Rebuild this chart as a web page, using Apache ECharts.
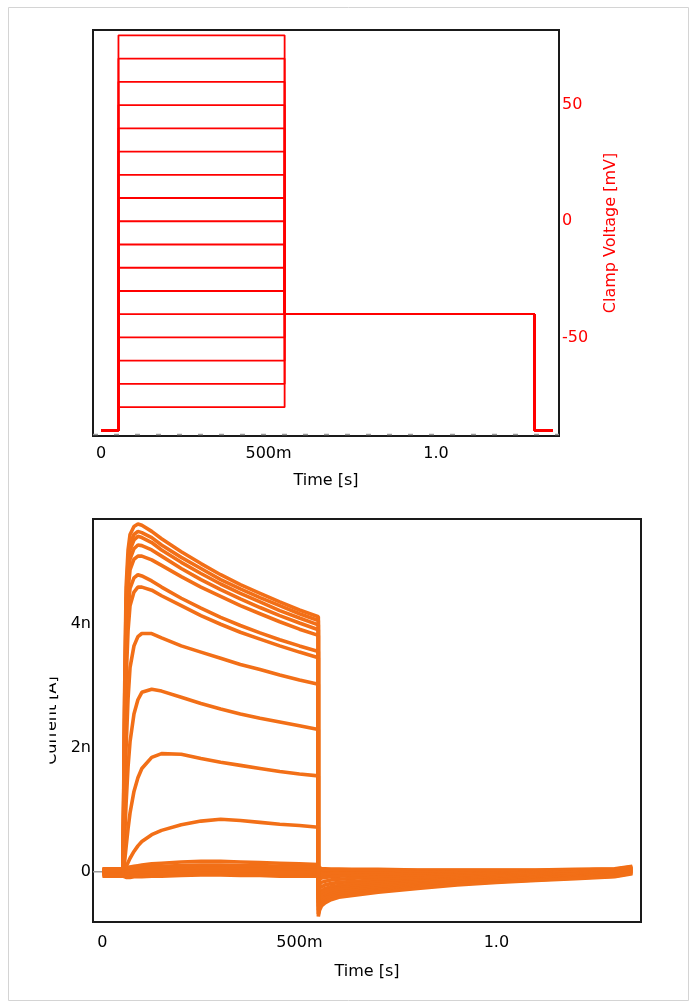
<!DOCTYPE html>
<html><head><meta charset="utf-8">
<script src="https://cdn.jsdelivr.net/npm/echarts@6/dist/echarts.min.js"></script>
<style>html,body{margin:0;padding:0;background:#fff}#c{width:697px;height:1003px}</style>
</head><body><div id="c"></div>
<script>
// ---------- data ----------
const stepVoltages = [-80, -70, -60, -50, -40, -30, -20, -10, 0, 10, 20, 30, 40, 50, 60, 70, 80];
const protocolTimes = [0, 0.052, 0.548, 1.294, 1.348]; // s
const holdingV = -90;
const tailV = -40;
const voltTicks = [-50, 0, 50];
const timeTicks = [0, 0.5, 1.0];
const timeTickLabels = ['0', '500m', '1.0'];
const currentTicks = [0, 2, 4];
const currentTickLabels = ['0', '2n', '4n'];
const zeroMarkerTimes = [-0.024, 0];
const refLineTimes = [-0.024, 1.367];
const refLineV = -91.8;

const pulseTimes = [0, 0.052, 0.056, 0.06, 0.065, 0.07, 0.08, 0.09, 0.1, 0.125, 0.15, 0.2, 0.25, 0.3, 0.35, 0.4, 0.45, 0.5, 0.548];
const tailTimes = [0.548, 0.551, 0.556, 0.565, 0.58, 0.6, 0.65, 0.7, 0.8, 0.9, 1.0, 1.1, 1.2, 1.3, 1.345];

// currents in nA, one list per voltage step
const pulse_m80 = [-0.07,-0.07,-0.09,-0.09,-0.09,-0.09,-0.08,-0.08,-0.08,-0.07,-0.07,-0.06,-0.05,-0.05,-0.06,-0.06,-0.07,-0.07,-0.07];
const pulse_m70 = [-0.04,-0.04,-0.05,-0.05,-0.05,-0.05,-0.04,-0.04,-0.04,-0.03,-0.03,-0.02,-0.01,-0.01,-0.02,-0.02,-0.03,-0.03,-0.03];
const pulse_m60 = [0.0,0.0,-0.02,-0.02,-0.02,-0.01,-0.01,-0.01,0,0,0.01,0.02,0.03,0.03,0.02,0.02,0.01,0.01,0];
const pulse_m50 = [-0.02,-0.02,0.02,0.02,0.02,0.03,0.03,0.03,0.04,0.04,0.05,0.06,0.07,0.07,0.06,0.06,0.05,0.05,0.04];
const pulse_m40 = [0.05,0.05,0.06,0.06,0.06,0.07,0.07,0.07,0.08,0.08,0.09,0.1,0.11,0.11,0.1,0.1,0.09,0.08,0.08];
const pulse_m30 = [0.03,0.03,0.05,0.06,0.07,0.08,0.09,0.1,0.11,0.13,0.14,0.16,0.17,0.17,0.16,0.15,0.14,0.13,0.12];
const pulse_m20 = [0.01,0.01,0.03,0.08,0.15,0.22,0.33,0.42,0.49,0.6,0.67,0.76,0.82,0.85,0.83,0.8,0.77,0.75,0.72];
const pulse_m10 = [0.0,0.0,0.15,0.4,0.7,0.95,1.3,1.52,1.67,1.85,1.91,1.9,1.83,1.77,1.72,1.67,1.62,1.58,1.55];
const pulse_0   = [0.02,0.02,0.5,1.1,1.7,2.1,2.55,2.78,2.9,2.95,2.92,2.82,2.72,2.63,2.55,2.48,2.42,2.36,2.3];
const pulse_p10 = [-0.01,-0.01,1.0,2.0,2.8,3.3,3.65,3.8,3.85,3.85,3.78,3.65,3.55,3.45,3.35,3.27,3.18,3.1,3.03];
const pulse_p20 = [0.0,0.0,1.5,3.1,3.9,4.3,4.52,4.6,4.6,4.55,4.46,4.3,4.14,4.0,3.87,3.76,3.65,3.55,3.46];
const pulse_p30 = [0.03,0.03,1.8,3.5,4.25,4.58,4.75,4.8,4.78,4.7,4.6,4.42,4.26,4.11,3.98,3.86,3.75,3.65,3.56];
const pulse_p40 = [0.01,0.01,2.0,3.8,4.55,4.88,5.05,5.1,5.1,5.04,4.95,4.77,4.6,4.45,4.3,4.17,4.04,3.92,3.82];
const pulse_p50 = [-0.03,-0.03,2.2,4.0,4.75,5.05,5.22,5.28,5.27,5.2,5.1,4.9,4.72,4.56,4.41,4.27,4.14,4.02,3.91];
const pulse_p60 = [0.02,0.02,2.4,4.2,4.9,5.2,5.36,5.42,5.4,5.32,5.2,5.0,4.82,4.65,4.5,4.36,4.22,4.1,3.99];
const pulse_p70 = [-0.05,-0.05,2.6,4.4,5.05,5.3,5.45,5.5,5.48,5.4,5.28,5.08,4.9,4.72,4.57,4.43,4.3,4.17,4.06];
const pulse_p80 = [0.04,0.04,2.8,4.6,5.2,5.45,5.58,5.62,5.6,5.5,5.38,5.17,4.98,4.8,4.64,4.5,4.36,4.23,4.12];

const tail_m80 = [-0.05,-0.05,-0.05,-0.05,-0.05,-0.05,-0.05,-0.05,-0.05,-0.05,-0.05,-0.05,-0.04,-0.03,0.01];
const tail_m70 = [-0.03,-0.03,-0.03,-0.03,-0.03,-0.03,-0.03,-0.03,-0.03,-0.03,-0.03,-0.03,-0.02,-0.01,0.03];
const tail_m60 = [0.0,0.0,0.0,0.0,0.0,0.0,0.0,0.0,0.0,0.0,0.0,0.0,0.01,0.02,0.05];
const tail_m50 = [0.03,0.03,0.03,0.03,0.03,0.02,0.02,0.02,0.02,0.02,0.02,0.02,0.03,0.04,0.07];
const tail_m40 = [0.05,0.05,0.05,0.05,0.04,0.04,0.04,0.04,0.03,0.03,0.03,0.03,0.04,0.05,0.09];
const tail_m30 = [0.06,0.05,0.05,0.04,0.04,0.04,0.03,0.03,0.02,0.02,0.02,0.02,0.03,0.04,0.08];
const tail_m20 = [-0.07,-0.06,-0.05,-0.04,-0.03,-0.03,-0.02,-0.02,-0.01,0,0,0.01,0.02,0.03,0.07];
const tail_m10 = [-0.14,-0.12,-0.1,-0.09,-0.08,-0.07,-0.06,-0.05,-0.04,-0.03,-0.02,-0.01,0,0.01,0.06];
const tail_0   = [-0.22,-0.19,-0.17,-0.15,-0.13,-0.12,-0.1,-0.09,-0.07,-0.05,-0.04,-0.02,-0.01,0,0.05];
const tail_p10 = [-0.3,-0.26,-0.23,-0.21,-0.19,-0.17,-0.15,-0.13,-0.1,-0.08,-0.06,-0.04,-0.03,-0.01,0.04];
const tail_p20 = [-0.38,-0.33,-0.3,-0.27,-0.24,-0.22,-0.19,-0.17,-0.14,-0.11,-0.08,-0.06,-0.04,-0.02,0.03];
const tail_p30 = [-0.44,-0.38,-0.34,-0.31,-0.28,-0.26,-0.23,-0.2,-0.16,-0.13,-0.1,-0.08,-0.06,-0.03,0.02];
const tail_p40 = [-0.5,-0.44,-0.39,-0.36,-0.32,-0.29,-0.26,-0.23,-0.19,-0.15,-0.12,-0.09,-0.07,-0.04,0.01];
const tail_p50 = [-0.56,-0.49,-0.44,-0.4,-0.36,-0.33,-0.29,-0.26,-0.21,-0.17,-0.13,-0.1,-0.08,-0.05,0];
const tail_p60 = [-0.62,-0.54,-0.48,-0.43,-0.39,-0.36,-0.32,-0.29,-0.23,-0.18,-0.15,-0.12,-0.09,-0.06,-0.01];
const tail_p70 = [-0.68,-0.58,-0.52,-0.47,-0.42,-0.39,-0.35,-0.31,-0.25,-0.2,-0.16,-0.13,-0.1,-0.07,-0.02];
const tail_p80 = [-0.72,-0.62,-0.55,-0.5,-0.45,-0.41,-0.37,-0.33,-0.27,-0.21,-0.17,-0.14,-0.11,-0.08,-0.03];

const pulseLists = [pulse_m80,pulse_m70,pulse_m60,pulse_m50,pulse_m40,pulse_m30,pulse_m20,pulse_m10,pulse_0,pulse_p10,pulse_p20,pulse_p30,pulse_p40,pulse_p50,pulse_p60,pulse_p70,pulse_p80];
const tailLists = [tail_m80,tail_m70,tail_m60,tail_m50,tail_m40,tail_m30,tail_m20,tail_m10,tail_0,tail_p10,tail_p20,tail_p30,tail_p40,tail_p50,tail_p60,tail_p70,tail_p80];

// ---------- chart ----------
const FONT = 'DejaVu Sans';
const RED = '#ff0000';
const ORANGE = '#f26f17';
const tMin = -0.024, tMax = 1.367;

const series = [];
stepVoltages.forEach(v => {
  const [t0, t1, t2, t3, t4] = protocolTimes;
  series.push({
    type: 'line', xAxisIndex: 0, yAxisIndex: 0, symbol: 'none', silent: true,
    lineStyle: { color: RED, width: 1.8 },
    data: [[t0, holdingV], [t1, holdingV], [t1, v], [t2, v], [t2, tailV], [t3, tailV], [t3, holdingV], [t4, holdingV]]
  });
});
series.push({
  type: 'line', xAxisIndex: 0, yAxisIndex: 0, symbol: 'none', silent: true, z: 1,
  lineStyle: { color: '#9a9a9a', width: 1.5, type: [5, 16] },
  data: refLineTimes.map(t => [t, refLineV])
});
series.push({
  type: 'line', xAxisIndex: 1, yAxisIndex: 1, symbol: 'none', silent: true,
  lineStyle: { color: '#9a9a9a', width: 1.5 },
  data: zeroMarkerTimes.map(t => [t, 0])
});
pulseLists.forEach((p, k) => {
  const tl = tailLists[k];
  series.push({
    type: 'line', xAxisIndex: 1, yAxisIndex: 1, symbol: 'none', silent: true,
    lineStyle: { color: ORANGE, width: 3.6 },
    data: pulseTimes.map((t, i) => [t, p[i]]).concat(tailTimes.map((t, i) => [t, tl[i]]))
  });
});

const timeFmt = v => { const i = timeTicks.indexOf(v); return i >= 0 ? timeTickLabels[i] : ''; };
const curFmt = v => { const i = currentTicks.indexOf(v); return i >= 0 ? currentTickLabels[i] : ''; };
const txt = { fontFamily: FONT, fontSize: 16, color: '#000' };

const chart = echarts.init(document.getElementById('c'), null, { renderer: 'canvas' });
chart.setOption({
  animation: false,
  backgroundColor: '#fff',
  grid: [
    { left: 93, top: 30, width: 466, height: 406, show: true, borderColor: '#1a1a1a', borderWidth: 2, backgroundColor: 'transparent' },
    { left: 93, top: 519, width: 548, height: 403, show: true, borderColor: '#1a1a1a', borderWidth: 2, backgroundColor: 'transparent' }
  ],
  xAxis: [
    { type: 'value', gridIndex: 0, min: tMin, max: tMax,
      axisLine: { show: false }, axisTick: { show: false }, splitLine: { show: false },
      axisLabel: Object.assign({ customValues: timeTicks, formatter: timeFmt, margin: 10 }, txt),
      name: 'Time [s]', nameLocation: 'middle', nameGap: 37, nameTextStyle: txt },
    { type: 'value', gridIndex: 1, min: tMin, max: tMax,
      axisLine: { show: false }, axisTick: { show: false }, splitLine: { show: false },
      axisLabel: Object.assign({ customValues: timeTicks, formatter: timeFmt, margin: 13 }, txt),
      name: 'Time [s]', nameLocation: 'middle', nameGap: 42, nameTextStyle: txt }
  ],
  yAxis: [
    { type: 'value', gridIndex: 0, position: 'right', min: -92.4, max: 82.3,
      axisLine: { show: false }, axisTick: { show: false }, splitLine: { show: false },
      axisLabel: Object.assign({}, txt, { customValues: voltTicks, margin: 3, color: RED }),
      name: 'Clamp Voltage [mV]', nameLocation: 'middle', nameRotate: 90, nameGap: 44,
      nameTextStyle: Object.assign({}, txt, { color: RED }) },
    { type: 'value', gridIndex: 1, min: -0.81, max: 5.70,
      axisLine: { show: false }, axisTick: { show: false }, splitLine: { show: false },
      axisLabel: Object.assign({ customValues: currentTicks, formatter: curFmt, margin: 2 }, txt),
      name: 'Current [A]', nameLocation: 'middle', nameRotate: 90, nameGap: 25, nameTextStyle: txt }
  ],
  graphic: [
    // the reference clips the left part of the rotated "Current [A]" title
    { type: 'rect', z: 90, silent: true, shape: { x: 20, y: 640, width: 29.5, height: 170 },
      style: { fill: '#fff' } },
    { type: 'rect', z: 100, silent: true, shape: { x: 8.5, y: 7.5, width: 680, height: 993 },
      style: { fill: 'none', stroke: '#d4d4d4', lineWidth: 1 } }
  ],
  series
});
</script></body></html>
